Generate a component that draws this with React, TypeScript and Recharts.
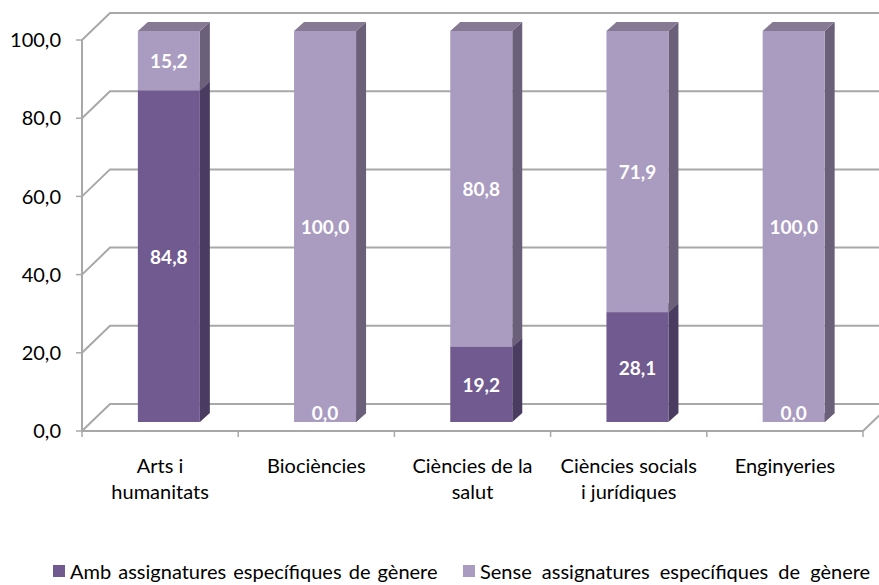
import React from 'react';
import { BarChart, Bar, XAxis, YAxis, CartesianGrid, LabelList } from 'recharts';

const categories = [
  'Arts i humanitats',
  'Biociències',
  'Ciències de la salut',
  'Ciències socials i jurídiques',
  'Enginyeries',
];
const categoryLines = [
  ['Arts i', 'humanitats'],
  ['Biociències'],
  ['Ciències de la', 'salut'],
  ['Ciències socials', 'i jurídiques'],
  ['Enginyeries'],
];
const ambValues = [84.8, 0, 19.2, 28.1, 0];
const senseValues = [15.2, 100, 80.8, 71.9, 100];
const seriesNames = [
  'Amb assignatures específiques de gènere',
  'Sense assignatures específiques de gènere',
];
const yTicks = [0, 20, 40, 60, 80, 100];

const data = categories.map((c, i) => ({ name: c, amb: ambValues[i], sense: senseValues[i] }));

const FONT = 'Lato, "Open Sans", sans-serif';
const GRID = '#A8A8A8';
const WALL_DX = 28;
const WALL_DY = 27;
const BAR_OFF = 9;
const BAR_DX = 10;
const BAR_DY = 9;

const COLORS = {
  amb: { front: '#705A8F', side: '#4A3B61', top: '#5E4C78' },
  sense: { front: '#AA9BC0', side: '#6B6079', top: '#857993' },
};

const fmt = (v: number) => v.toFixed(1).replace('.', ',');

const makeShape = (c: { front: string; side: string; top: string }) => (props: any) => {
  const { x, y, width, height } = props;
  if (width == null || height == null) return <g />;
  const fx = x + BAR_OFF;
  const fy = y - BAR_OFF;
  const w = width;
  const h = Math.max(0, height);
  return (
    <g>
      <polygon
        points={`${fx + w},${fy} ${fx + w + BAR_DX},${fy - BAR_DY} ${fx + w + BAR_DX},${fy + h - BAR_DY} ${fx + w},${fy + h}`}
        fill={c.side}
      />
      <polygon
        points={`${fx},${fy} ${fx + BAR_DX},${fy - BAR_DY} ${fx + w + BAR_DX},${fy - BAR_DY} ${fx + w},${fy}`}
        fill={c.top}
      />
      <rect x={fx} y={fy} width={w} height={h} fill={c.front} />
    </g>
  );
};

const renderLabel = (props: any) => {
  const { x, y, width, height, value } = props;
  const cx = x + BAR_OFF + width / 2;
  const cy = height > 1 ? y - BAR_OFF + height / 2 : y - BAR_OFF - 10;
  return (
    <text
      x={cx}
      y={cy}
      fill="#FFFFFF"
      fontFamily={FONT}
      fontWeight={700}
      fontSize={19}
      textAnchor="middle"
      dominantBaseline="central"
    >
      {fmt(Number(value))}
    </text>
  );
};

const gridLine = (props: any) => {
  const { x1, y1, x2, key } = props;
  return (
    <path
      key={key}
      d={`M${x1},${y1} L${x1 + WALL_DX},${y1 - WALL_DY} L${x2 + WALL_DX},${y1 - WALL_DY}`}
      stroke={GRID}
      strokeWidth={2}
      fill="none"
    />
  );
};

const XTick = (props: any) => {
  const { x, y, payload, index } = props;
  const i = payload && typeof payload.index === 'number' ? payload.index : index;
  const half = payload && payload.offset ? payload.offset : 78;
  const lines = categoryLines[i] || [String(payload.value)];
  const last = i === categories.length - 1;
  return (
    <g>
      <line x1={x - half} y1={y} x2={x - half} y2={y + 6} stroke={GRID} strokeWidth={1.5} />
      {last && (
        <>
          <line x1={x + half} y1={y} x2={x + half} y2={y + 6} stroke={GRID} strokeWidth={1.5} />
          <line x1={x + half} y1={y} x2={x + half + WALL_DX} y2={y - WALL_DY} stroke={GRID} strokeWidth={2} />
        </>
      )}
      {lines.map((l, k) => (
        <text
          key={k}
          x={x}
          y={y + 42 + k * 26}
          textAnchor="middle"
          fontFamily={FONT}
          fontSize={20}
          fill="#000"
        >
          {l}
        </text>
      ))}
    </g>
  );
};

const legendLeft = [53, 463];

export default function App() {
  return (
    <div style={{ position: 'absolute', left: 0, top: 0, width: 879, height: 585, background: '#fff' }}>
      <BarChart
        width={879}
        height={585}
        data={data}
        margin={{ top: 40, right: 16, left: 0, bottom: 94 }}
        barCategoryGap="30%"
      >
        <CartesianGrid horizontal={gridLine} vertical={false} />
        <XAxis
          dataKey="name"
          height={60}
          tickLine={false}
          tickSize={0}
          tickMargin={0}
          axisLine={{ stroke: GRID, strokeWidth: 2 }}
          tick={<XTick />}
          interval={0}
        />
        <YAxis
          width={82}
          domain={[0, 100]}
          ticks={yTicks}
          tickFormatter={fmt}
          axisLine={{ stroke: GRID, strokeWidth: 2 }}
          tickLine={{ stroke: GRID, strokeWidth: 1.5 }}
          tickSize={6}
          tickMargin={15}
          tick={{ fill: '#000', fontSize: 20, fontFamily: FONT }}
        />
        <Bar dataKey="amb" stackId="s" isAnimationActive={false} shape={makeShape(COLORS.amb)}>
          <LabelList dataKey="amb" content={renderLabel} />
        </Bar>
        <Bar dataKey="sense" stackId="s" isAnimationActive={false} shape={makeShape(COLORS.sense)}>
          <LabelList dataKey="sense" content={renderLabel} />
        </Bar>
      </BarChart>
      {seriesNames.map((n, i) => (
        <div
          key={n}
          style={{
            position: 'absolute',
            left: legendLeft[i],
            top: 559,
            display: 'flex',
            alignItems: 'center',
            fontFamily: FONT,
            fontSize: 20,
            lineHeight: '24px',
            wordSpacing: i === 0 ? 2 : 5,
            color: '#000',
            whiteSpace: 'nowrap',
          }}
        >
          <span
            style={{
              display: 'inline-block',
              width: 12,
              height: 12,
              background: i === 0 ? COLORS.amb.front : COLORS.sense.front,
              marginRight: 5,
            }}
          />
          <span>{n}</span>
        </div>
      ))}
    </div>
  );
}
